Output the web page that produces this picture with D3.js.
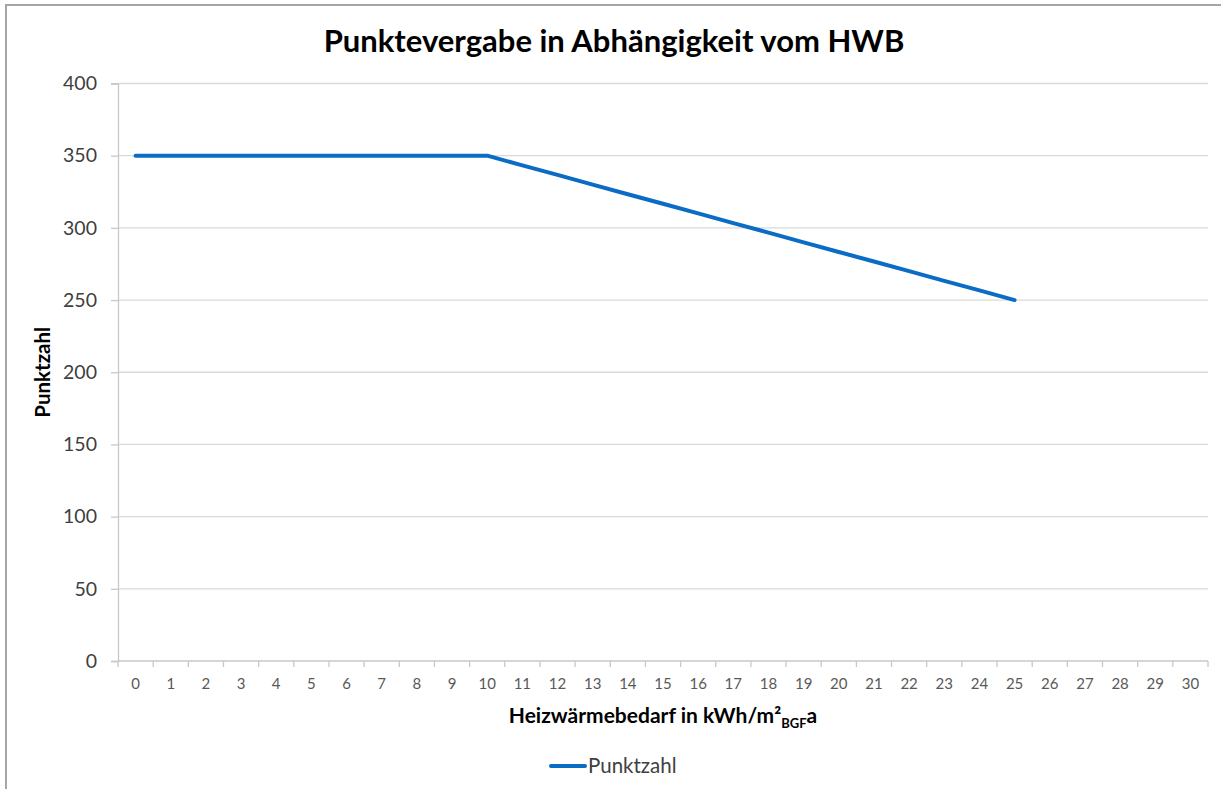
<!DOCTYPE html>
<html><head><meta charset="utf-8">
<script src="https://cdn.jsdelivr.net/npm/d3@7"></script>
<style>body{margin:0;background:#fff;} svg{display:block;}</style>
</head><body>
<svg id="c" width="1221" height="789"></svg>
<script>
const categories = [0,1,2,3,4,5,6,7,8,9,10,11,12,13,14,15,16,17,18,19,20,21,22,23,24,25,26,27,28,29,30];
const seriesName = "Punktzahl";
const values = [350,350,350,350,350,350,350,350,350,350,350,343.3,336.7,330,323.3,316.7,310,303.3,296.7,290,283.3,276.7,270,263.3,256.7,250];
const yTicks = [0,50,100,150,200,250,300,350,400];
const title = "Punktevergabe in Abhängigkeit vom HWB";
const yTitle = "Punktzahl";

const svg = d3.select("#c");
const F = "Lato, 'Open Sans', sans-serif";
const m = {l:118, r:1208, t:83.5, b:661};

// outer frame
svg.append("rect").attr("x",6).attr("y",5).attr("width",1240).attr("height",800)
  .attr("fill","#fff").attr("stroke","#a6a6a6").attr("stroke-width",2);

const x = d3.scaleBand().domain(categories).range([m.l,m.r]).paddingInner(0).paddingOuter(0);
const y = d3.scaleLinear().domain([0,400]).range([m.b,m.t]);

// gridlines
svg.append("g").selectAll("line").data(yTicks.filter(d=>d>0)).join("line")
  .attr("x1",m.l).attr("x2",m.r).attr("y1",d=>y(d)).attr("y2",d=>y(d))
  .attr("stroke","#d9d9d9").attr("stroke-width",1.3);

// y axis
const ya = svg.append("g").attr("transform",`translate(${m.l},0)`)
  .call(d3.axisLeft(y).tickValues(yTicks).tickSize(7).tickPadding(14));
ya.select(".domain").attr("stroke","#c8c8c8").attr("stroke-width",1.3);
ya.selectAll(".tick line").attr("stroke","#c8c8c8").attr("stroke-width",1.3);
ya.selectAll(".tick text").attr("font-family",F).attr("font-size",19.5).attr("fill","#404040");

// x axis
const xa = svg.append("g").attr("transform",`translate(0,${m.b})`);
xa.append("line").attr("x1",m.l).attr("x2",m.r).attr("stroke","#c8c8c8").attr("stroke-width",1.3);
const bounds = categories.map(c=>x(c)).concat([x(categories[categories.length-1])+x.bandwidth()]);
xa.selectAll("line.t").data(bounds).join("line").attr("class","t")
  .attr("x1",d=>d).attr("x2",d=>d).attr("y1",0).attr("y2",6)
  .attr("stroke","#c8c8c8").attr("stroke-width",1.3);
xa.selectAll("text").data(categories).join("text")
  .attr("x",d=>x(d)+x.bandwidth()/2).attr("y",28)
  .attr("text-anchor","middle").attr("font-family",F).attr("font-size",15).attr("fill","#595959")
  .text(d=>d);

// line
const line = d3.line().x((d,i)=>x(categories[i])+x.bandwidth()/2).y(d=>y(d));
svg.append("path").datum(values).attr("d",line).attr("fill","none")
  .attr("stroke","#0A6CC4").attr("stroke-width",4).attr("stroke-linejoin","round").attr("stroke-linecap","round");

// title
svg.append("text").attr("x",614).attr("y",52).attr("text-anchor","middle")
  .attr("font-family",F).attr("font-weight","bold").attr("font-size",31).attr("fill","#000").text(title);

// y title
svg.append("text").attr("transform",`translate(50,${(m.t+m.b)/2}) rotate(-90)`).attr("text-anchor","middle")
  .attr("font-family",F).attr("font-weight","bold").attr("font-size",20.5).attr("fill","#000").text(yTitle);

// x title
const xt = svg.append("text").attr("x",(m.l+m.r)/2).attr("y",723).attr("text-anchor","middle")
  .attr("font-family",F).attr("font-weight","bold").attr("font-size",21).attr("fill","#000");
xt.append("tspan").text("Heizwärmebedarf in kWh/m²");
xt.append("tspan").attr("font-size",13).attr("dy",5).text("BGF");
xt.append("tspan").attr("dy",-5).text("a");

// legend
svg.append("line").attr("x1",551).attr("x2",585).attr("y1",766).attr("y2",766)
  .attr("stroke","#0A6CC4").attr("stroke-width",4).attr("stroke-linecap","round");
svg.append("text").attr("x",588).attr("y",773).attr("font-family",F).attr("font-size",20.5)
  .attr("fill","#404040").text(seriesName);
</script>
</body></html>
